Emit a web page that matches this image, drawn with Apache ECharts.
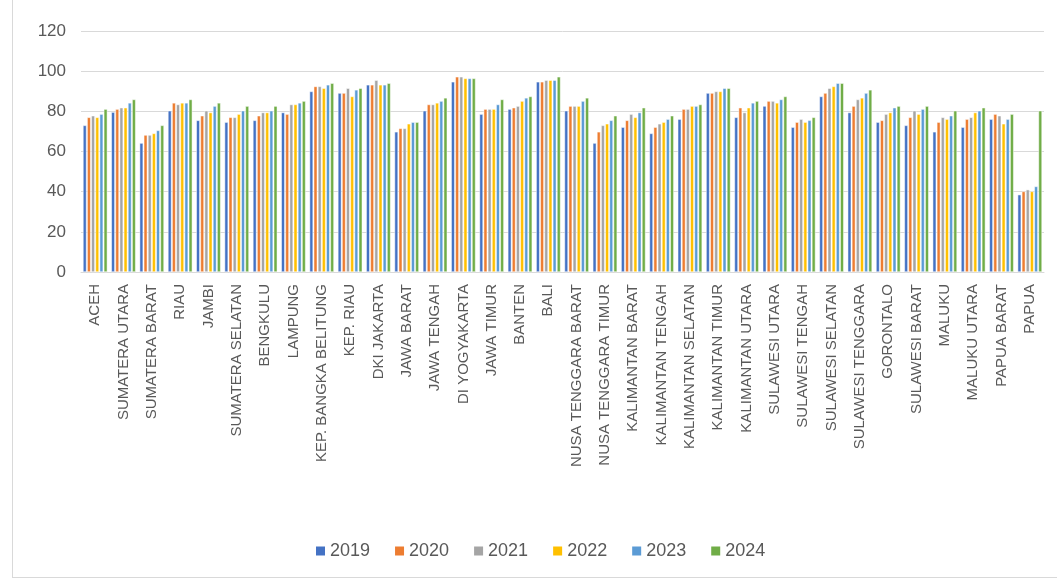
<!DOCTYPE html>
<html>
<head>
<meta charset="utf-8">
<script src="https://cdn.jsdelivr.net/npm/echarts@6/dist/echarts.min.js"></script>
<style>
  html, body { margin: 0; padding: 0; background: #fff; }
  #chart { position: absolute; left: 12px; top: -2px; width: 1045px; height: 579px; border-left: 1px solid #d9d9d9; border-bottom: 1px solid #d9d9d9; }
</style>
</head>
<body>
<div id="chart"></div>
<script>
const provinces = ['ACEH', 'SUMATERA UTARA', 'SUMATERA BARAT', 'RIAU', 'JAMBI', 'SUMATERA SELATAN', 'BENGKULU', 'LAMPUNG',
  'KEP. BANGKA BELITUNG', 'KEP. RIAU', 'DKI JAKARTA', 'JAWA BARAT', 'JAWA TENGAH', 'DI YOGYAKARTA', 'JAWA TIMUR', 'BANTEN',
  'BALI', 'NUSA TENGGARA BARAT', 'NUSA TENGGARA TIMUR', 'KALIMANTAN BARAT', 'KALIMANTAN TENGAH', 'KALIMANTAN SELATAN',
  'KALIMANTAN TIMUR', 'KALIMANTAN UTARA', 'SULAWESI UTARA', 'SULAWESI TENGAH', 'SULAWESI SELATAN', 'SULAWESI TENGGARA',
  'GORONTALO', 'SULAWESI BARAT', 'MALUKU', 'MALUKU UTARA', 'PAPUA BARAT', 'PAPUA']

const years = ['2019', '2020', '2021', '2022', '2023', '2024']
const colors = ['#4472C4', '#ED7D31', '#A5A5A5', '#FFC000', '#5B9BD5', '#70AD47']

const v2019 = [73.0, 79.6, 64.2, 80.3, 75.5, 74.6, 75.5, 79.4, 89.9, 89.1, 93.2, 69.8, 80.3, 94.7, 78.6, 81.1, 94.7,
  80.3, 64.2, 72.1, 69.0, 76.1, 89.1, 77.0, 82.6, 72.1, 87.4, 79.4, 74.6, 73.0, 69.8, 72.1, 76.1, 38.5]
const v2020 = [77.0, 81.1, 68.2, 84.2, 77.8, 77.0, 77.8, 78.6, 92.4, 89.1, 93.2, 71.5, 83.4, 97.2, 81.1, 81.8, 94.7,
  82.6, 69.8, 75.5, 72.1, 81.1, 89.1, 81.8, 85.1, 74.6, 89.1, 82.6, 75.5, 77.0, 74.6, 76.1, 78.6, 40.1]
const v2021 = [77.8, 81.8, 68.2, 83.4, 80.3, 77.0, 79.4, 83.4, 92.4, 91.5, 95.5, 71.5, 83.4, 97.2, 81.1, 82.6, 95.5,
  82.6, 73.0, 78.6, 73.8, 81.1, 89.9, 79.4, 85.1, 76.1, 91.5, 85.9, 78.6, 80.3, 77.0, 77.0, 77.8, 41.0]
const v2022 = [77.0, 81.8, 69.0, 84.2, 79.4, 78.6, 79.4, 83.4, 91.5, 87.4, 93.2, 73.8, 84.2, 96.4, 81.1, 85.1, 95.5,
  82.6, 73.8, 77.0, 74.6, 82.6, 89.9, 81.8, 84.2, 74.6, 92.4, 86.7, 79.4, 78.6, 76.1, 79.4, 73.8, 40.1]
const v2023 = [78.6, 84.2, 70.5, 84.2, 82.6, 80.3, 80.3, 84.2, 93.2, 90.7, 93.2, 74.6, 85.1, 96.4, 83.4, 86.7, 95.5,
  85.1, 75.5, 79.4, 76.1, 82.6, 91.5, 84.2, 85.9, 75.5, 94.0, 89.1, 81.8, 81.1, 77.8, 80.3, 76.1, 42.6]
const v2024 = [81.1, 85.9, 73.0, 85.9, 84.2, 82.6, 82.6, 85.1, 94.0, 91.5, 94.0, 74.6, 86.7, 96.4, 85.9, 87.4, 97.2,
  86.7, 77.8, 81.8, 77.8, 83.4, 91.5, 85.1, 87.4, 77.0, 94.0, 90.7, 82.6, 82.6, 80.3, 81.8, 78.6, 80.3]

const values = [v2019, v2020, v2021, v2022, v2023, v2024]

const chart = echarts.init(document.getElementById('chart'))
chart.setOption({
  animation: false,
  color: colors,
  textStyle: { fontFamily: 'Liberation Sans' },
  grid: { left: 68, right: 14, top: 33, bottom: 305 },
  legend: {
    left: 298, top: 539,
    itemWidth: 9, itemHeight: 9, itemGap: 25,
    icon: 'rect',
    itemStyle: { borderWidth: 0 },
    textStyle: { color: '#595959', fontSize: 18 },
    data: years
  },
  xAxis: {
    type: 'category',
    data: provinces,
    axisLine: { lineStyle: { color: '#d9d9d9' } },
    axisTick: { show: false },
    axisLabel: { rotate: 90, interval: 0, color: '#595959', fontSize: 15, margin: 12 }
  },
  yAxis: {
    type: 'value', min: 0, max: 120, interval: 20,
    axisLine: { show: false },
    axisTick: { show: false },
    axisLabel: { color: '#595959', fontSize: 17, margin: 15 },
    splitLine: { lineStyle: { color: '#d9d9d9', width: 1 } }
  },
  series: years.map((y, i) => ({
    name: y,
    type: 'bar',
    data: values[i],
    barGap: '18%',
    barCategoryGap: '14%',
    itemStyle: { color: colors[i], borderColor: '#fff', borderWidth: 0.5 }
  }))
})
</script>
</body>
</html>
